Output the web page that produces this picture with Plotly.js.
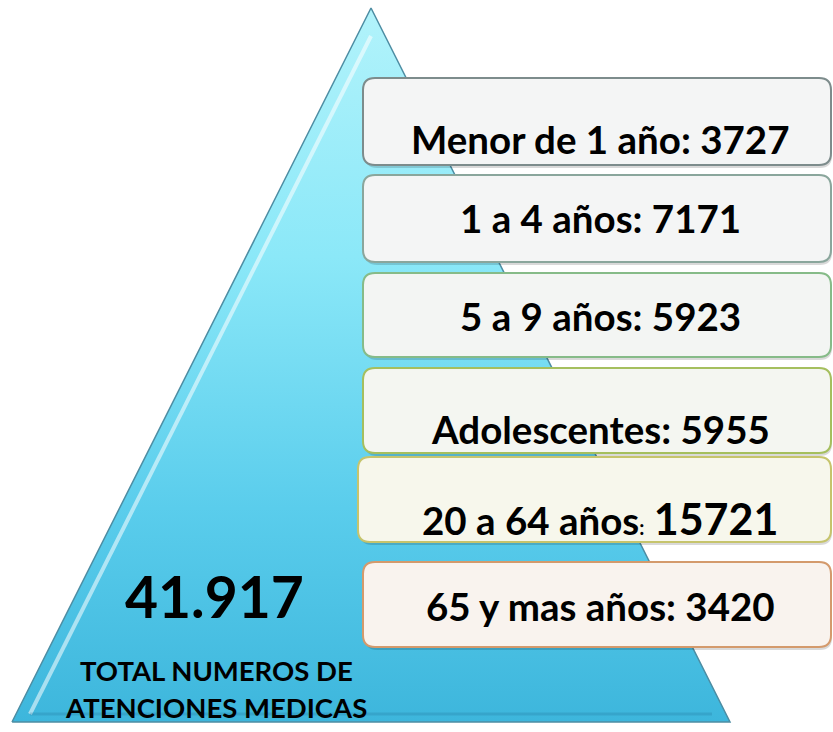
<!DOCTYPE html>
<html><head><meta charset="utf-8">
<script src="https://cdn.plot.ly/plotly-3.0.1.min.js"></script>
<style>html,body{margin:0;padding:0;background:#fff}#chart{width:833px;height:732px}</style>
</head><body><div id="chart"></div>
<script>
// ---- data ----
const categories = ["Menor de 1 año", "1 a 4 años", "5 a 9 años", "Adolescentes", "20 a 64 años", "65 y mas años"];
const values = [3727, 7171, 5923, 5955, 15721, 3420];
const totalCaption = ["TOTAL NUMEROS DE", "ATENCIONES MEDICAS"];

// ---- layout config (positions/styles) ----
const W = 833, H = 732;
const boxTop = [78, 175, 273, 368, 457, 562];
const boxBot = [165, 262, 357, 453, 542, 647];
const boxLeft = [363, 363, 363, 363, 358, 363];
const boxRight = 831;
const textY = [139, 218, 316, 429, 518, 606];
const boxBorder = ["#7d8c8c", "#8aa69c", "#86bb88", "#a5bf5e", "#c6c46c", "#d49a6c"];
const boxFill = ["#f4f5f5", "#f4f5f5", "#f3f5f3", "#f4f6f1", "#f7f7ec", "#f9f3ee"];

const total = values.reduce((a, b) => a + b, 0);
const totalText = total.toString().replace(/\B(?=(\d{3})+(?!\d))/g, ".");

function rr(x0, y0, x1, y1, r) {
  return `M ${x0 + r},${y0} L ${x1 - r},${y0} Q ${x1},${y0} ${x1},${y0 + r} L ${x1},${y1 - r} Q ${x1},${y1} ${x1 - r},${y1} L ${x0 + r},${y1} Q ${x0},${y1} ${x0},${y1 - r} L ${x0},${y0 + r} Q ${x0},${y0} ${x0 + r},${y0} Z`;
}

const apex = [371, 8], bl = [12, 722], br = [730, 722];
const traces = [
  {
    x: [bl[0], apex[0], br[0], bl[0]], y: [bl[1], apex[1], br[1], bl[1]],
    mode: "lines", fill: "toself", hoverinfo: "skip", showlegend: false,
    line: { color: "#4d8da3", width: 1.5 },
    fillgradient: { type: "vertical", start: 8, stop: 722,
      colorscale: [[0, "#b2f3fb"], [0.35, "#8be8f8"], [0.7, "#5acdec"], [1, "#3db6dc"]] }
  },
  {
    x: [30, 371], y: [714, 36], mode: "lines", hoverinfo: "skip", showlegend: false,
    line: { color: "rgba(255,255,255,0.55)", width: 4 }
  },
  {
    x: [30, 712], y: [714, 714], mode: "lines", hoverinfo: "skip", showlegend: false,
    line: { color: "rgba(30,110,150,0.25)", width: 3 }
  }
];

const FONT = "Lato, 'Open Sans', sans-serif";
const shapes = [];
const annotations = [];
for (let i = 0; i < categories.length; i++) {
  shapes.push({ type: "path", xref: "x", yref: "y", path: rr(boxLeft[i] + 2, boxTop[i] + 3, boxRight + 1, boxBot[i] + 3, 12),
    fillcolor: "rgba(0,0,0,0.15)", line: { width: 0 } });
  shapes.push({ type: "path", xref: "x", yref: "y", path: rr(boxLeft[i], boxTop[i], boxRight, boxBot[i], 12),
    fillcolor: boxFill[i], line: { color: boxBorder[i], width: 2 } });
  let txt;
  if (i === 4) {
    txt = categories[i] + "<span style='font-size:20px'>:</span> <span style='font-size:43px'>" + values[i] + "</span>";
  } else {
    txt = categories[i] + ": " + values[i];
  }
  annotations.push({ xref: "x", yref: "y", x: 600, y: textY[i], text: "<b>" + txt + "</b>", showarrow: false,
    xanchor: "center", yanchor: "middle", font: { family: FONT, size: 38.5, color: "#000" } });
}
annotations.push({ xref: "x", yref: "y", x: 214, y: 596, text: "<b>" + totalText + "</b>", showarrow: false,
  xanchor: "center", yanchor: "middle", font: { family: FONT, size: 57, color: "#000" } });
annotations.push({ xref: "x", yref: "y", x: 216, y: 670, text: "<b>" + totalCaption[0] + "</b>", showarrow: false,
  xanchor: "center", yanchor: "middle", font: { family: FONT, size: 27.5, color: "#000" } });
annotations.push({ xref: "x", yref: "y", x: 216, y: 707, text: "<b>" + totalCaption[1] + "</b>", showarrow: false,
  xanchor: "center", yanchor: "middle", font: { family: FONT, size: 27.5, color: "#000" } });

const layout = {
  width: W, height: H, margin: { l: 0, r: 0, t: 0, b: 0 },
  paper_bgcolor: "#fff", plot_bgcolor: "#fff", showlegend: false,
  xaxis: { range: [0, W], visible: false, fixedrange: true },
  yaxis: { range: [H, 0], visible: false, fixedrange: true },
  shapes: shapes, annotations: annotations
};
Plotly.newPlot("chart", traces, layout, { displayModeBar: false, staticPlot: true });
</script></body></html>
